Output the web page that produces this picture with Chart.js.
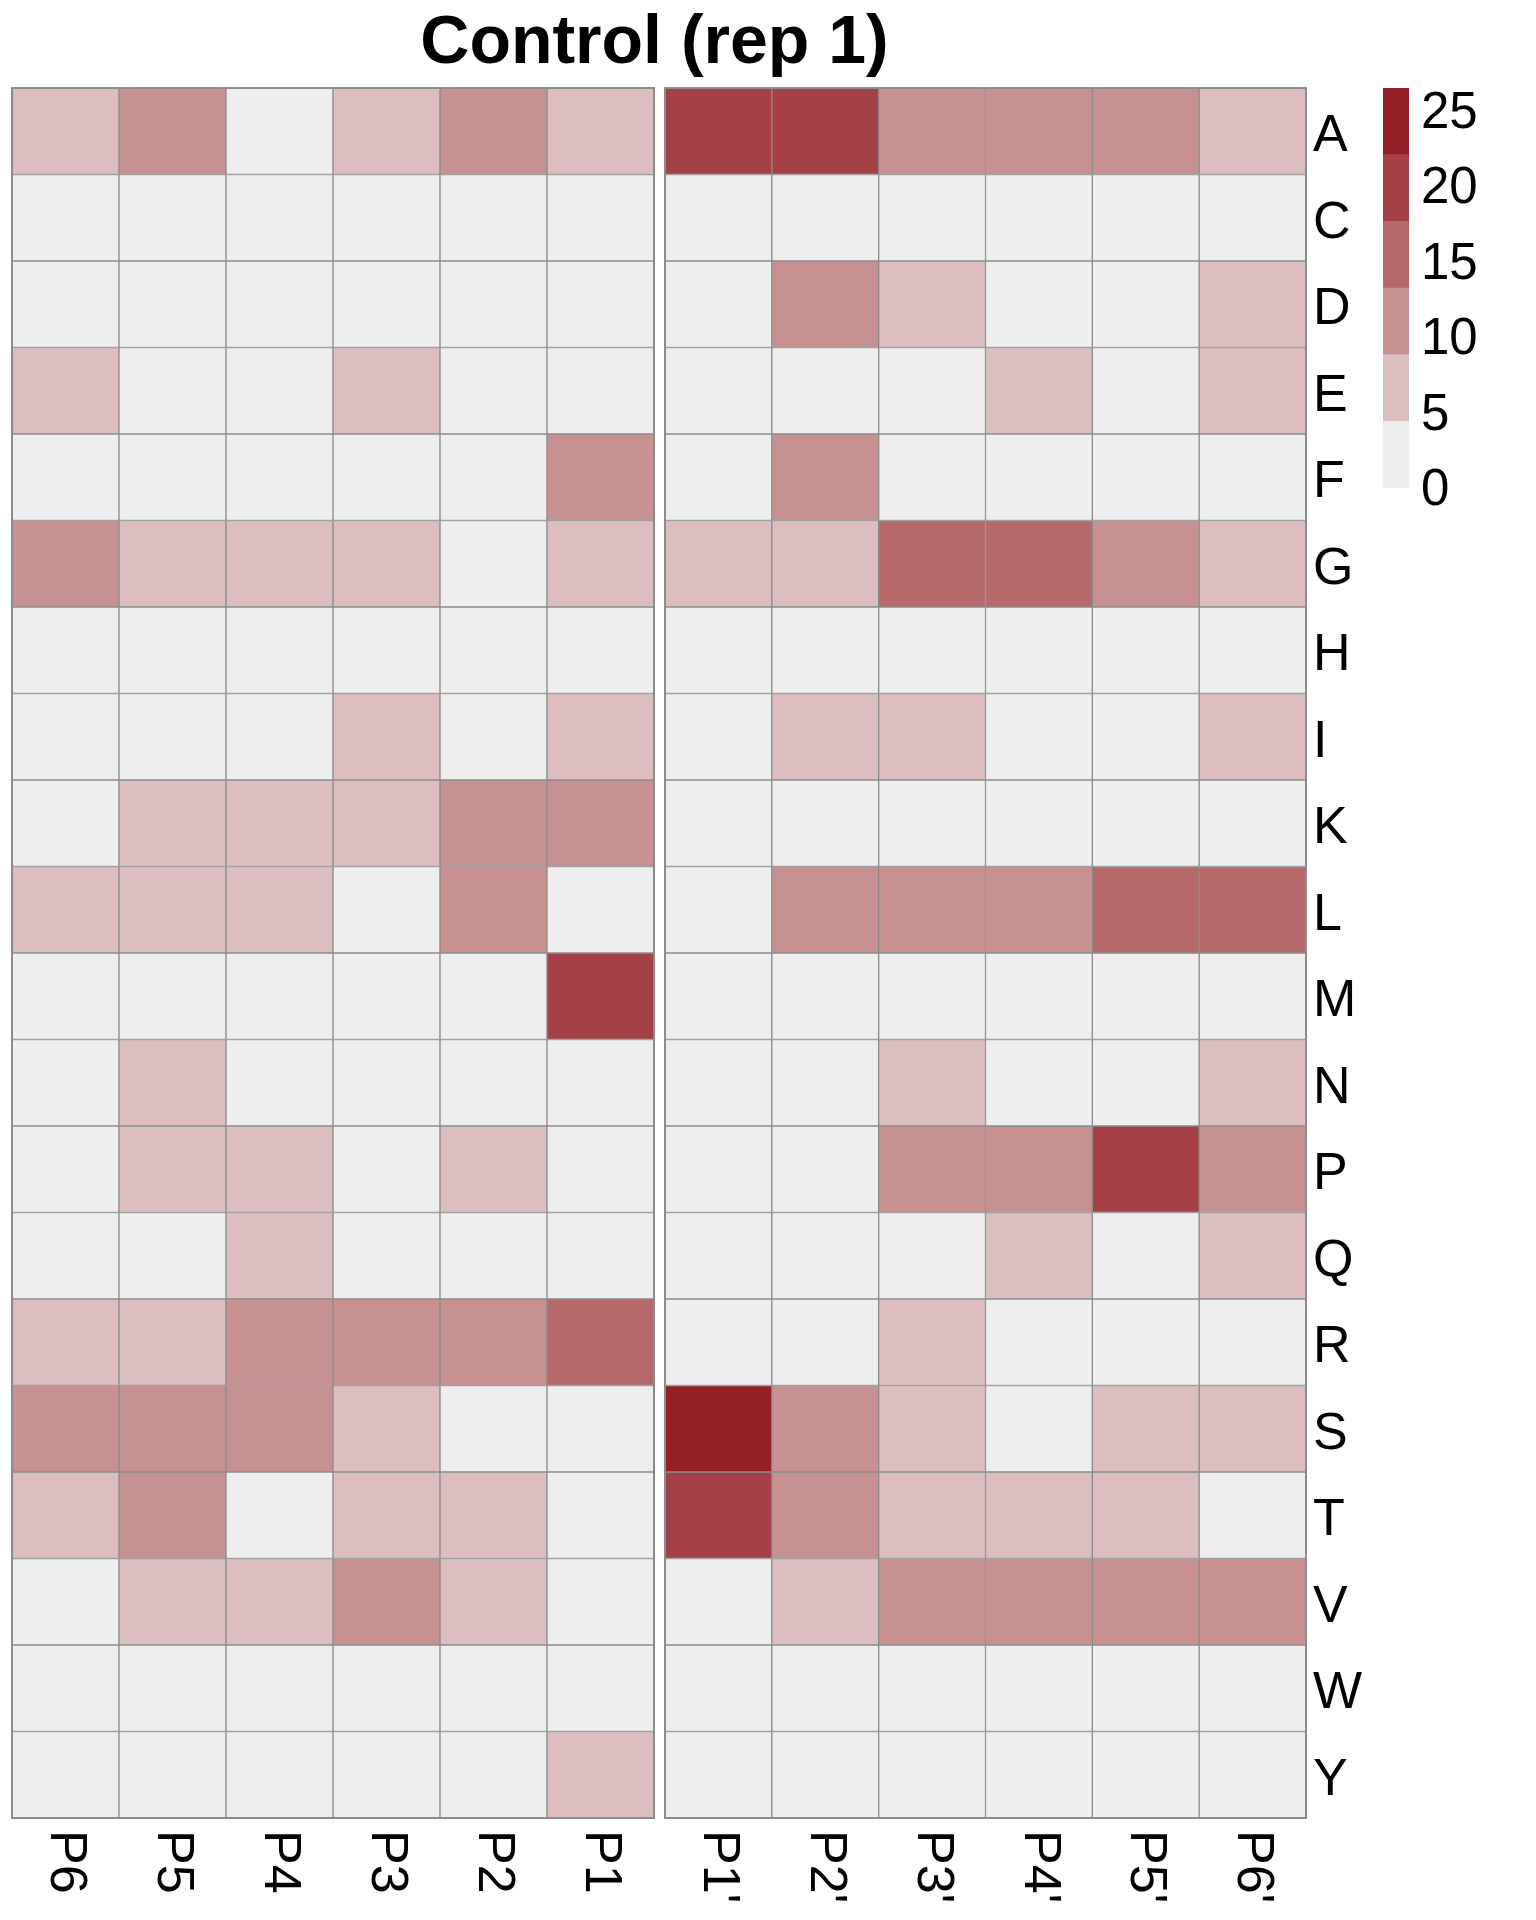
<!DOCTYPE html>
<html>
<head>
<meta charset="utf-8">
<script src="https://cdn.jsdelivr.net/npm/chart.js@4.4.1/dist/chart.umd.min.js"></script>
<style>
  html, body { margin: 0; padding: 0; background: #ffffff; }
  #page { position: relative; width: 1536px; height: 1920px; }
  canvas { position: absolute; left: 0; top: 0; }
  #title {
    position: absolute; left: 0; top: 5px; width: 1309px;
    text-align: center; font: bold 68px "Liberation Sans", Arial, sans-serif;
    line-height: 68px; color: #000; white-space: nowrap;
  }
</style>
</head>
<body>
<div id="page">
  <div id="title">Control (rep 1)</div>
  <canvas id="cv-left" width="1536" height="1920"></canvas>
  <canvas id="cv-right" width="1536" height="1920"></canvas>
  <canvas id="cv-legend" width="1536" height="1920"></canvas>
</div>
<script>
// residues, top to bottom
const rows = ['A', 'C', 'D', 'E', 'F', 'G', 'H', 'I', 'K', 'L', 'M', 'N', 'P', 'Q', 'R', 'S', 'T', 'V', 'W', 'Y'];
const leftCols = ['P6', 'P5', 'P4', 'P3', 'P2', 'P1'];
const rightCols = ["P1'", "P2'", "P3'", "P4'", "P5'", "P6'"];

// one row per residue, one value per column
const leftValues = [
    [7, 12, 0, 7, 12, 7],    // A
    [0, 0, 0, 0, 0, 0],      // C
    [0, 0, 0, 0, 0, 0],      // D
    [7, 0, 0, 7, 0, 0],      // E
    [0, 0, 0, 0, 0, 12],     // F
    [12, 7, 7, 7, 0, 7],     // G
    [0, 0, 0, 0, 0, 0],      // H
    [0, 0, 0, 7, 0, 7],      // I
    [0, 7, 7, 7, 12, 12],    // K
    [7, 7, 7, 0, 12, 0],     // L
    [0, 0, 0, 0, 0, 22],     // M
    [0, 7, 0, 0, 0, 0],      // N
    [0, 7, 7, 0, 7, 0],      // P
    [0, 0, 7, 0, 0, 0],      // Q
    [7, 7, 12, 12, 12, 17],  // R
    [12, 12, 12, 7, 0, 0],   // S
    [7, 12, 0, 7, 7, 0],     // T
    [0, 7, 7, 12, 7, 0],     // V
    [0, 0, 0, 0, 0, 0],      // W
    [0, 0, 0, 0, 0, 7]       // Y
];
const rightValues = [
    [22, 22, 12, 12, 12, 7], // A
    [0, 0, 0, 0, 0, 0],      // C
    [0, 12, 7, 0, 0, 7],     // D
    [0, 0, 0, 7, 0, 7],      // E
    [0, 12, 0, 0, 0, 0],     // F
    [7, 7, 17, 17, 12, 7],   // G
    [0, 0, 0, 0, 0, 0],      // H
    [0, 7, 7, 0, 0, 7],      // I
    [0, 0, 0, 0, 0, 0],      // K
    [0, 12, 12, 12, 17, 17], // L
    [0, 0, 0, 0, 0, 0],      // M
    [0, 0, 7, 0, 0, 7],      // N
    [0, 0, 12, 12, 22, 12],  // P
    [0, 0, 0, 7, 0, 7],      // Q
    [0, 0, 7, 0, 0, 0],      // R
    [27, 12, 7, 0, 7, 7],    // S
    [22, 12, 7, 7, 7, 0],    // T
    [0, 7, 12, 12, 12, 12],  // V
    [0, 0, 0, 0, 0, 0],      // W
    [0, 0, 0, 0, 0, 0]       // Y
];

const legendTicks = [0, 5, 10, 15, 20, 25];
const legendTop = 26.5;
const palette = ['#eeeeee', '#dcbec1', '#c79192', '#b5696a', '#a44046', '#941f26'];

Chart.defaults.font.family = '"Liberation Sans", Arial, sans-serif';
Chart.defaults.color = '#000';

function colorFor(v) {
    return palette[Math.min(palette.length - 1, Math.floor(v / 5))];
}

const labelFont = '52px "Liberation Sans", Arial, sans-serif';

// column labels, rotated to read downwards; row labels on the right panel
const heatLabels = {
    id: 'heatLabels',
    afterDraw(chart, args, opts) {
        const ctx = chart.ctx;
        const xs = chart.scales.x, ys = chart.scales.y;
        const area = chart.chartArea;
        ctx.save();
        ctx.fillStyle = '#000';
        ctx.font = labelFont;
        ctx.textAlign = 'left';
        ctx.textBaseline = 'middle';
        chart.data.labels.forEach((lab, i) => {
            ctx.save();
            ctx.translate(xs.getPixelForValue(i), area.bottom + 12);
            ctx.rotate(Math.PI / 2);
            ctx.fillText(lab, 0, 0);
            ctx.restore();
        });
        if (opts.rowLabels) {
            ctx.textBaseline = 'alphabetic';
            rows.forEach((r, k) => {
                ctx.fillText(r, area.right + 7, ys.getPixelForValue(rows.length - k - 0.5) + 20);
            });
        }
        // panel frame
        ctx.strokeStyle = '#8c8c8c';
        ctx.lineWidth = 2;
        ctx.strokeRect(area.left, area.top, area.right - area.left, area.bottom - area.top);
        ctx.restore();
    }
};

function makeHeat(id, cols, values, pad, rowLabels) {
    // bottom row first so that A ends up on top of the stack
    const datasets = rows.map((r, k) => ({
        label: r,
        data: cols.map(() => 1),
        backgroundColor: values[k].map(colorFor),
        borderColor: '#8c8c8c',
        borderWidth: 1,
        borderSkipped: false,
        barPercentage: 1,
        categoryPercentage: 1,
        stack: 'cells'
    })).reverse();
    return new Chart(document.getElementById(id), {
        type: 'bar',
        data: { labels: cols, datasets: datasets },
        options: {
            responsive: false,
            animation: false,
            layout: { padding: pad },
            plugins: { legend: { display: false }, tooltip: { enabled: false }, heatLabels: { rowLabels: rowLabels } },
            scales: {
                x: { display: false, stacked: true },
                y: { display: false, stacked: true, min: 0, max: rows.length }
            }
        },
        plugins: [heatLabels]
    });
}

const leftChart = makeHeat('cv-left', leftCols, leftValues,
    { left: 12, top: 88, right: 1536 - 654, bottom: 1920 - 1818 }, false);
const rightChart = makeHeat('cv-right', rightCols, rightValues,
    { left: 665, top: 88, right: 1536 - 1306, bottom: 1920 - 1818 }, true);

// colour key
const legendChart = new Chart(document.getElementById('cv-legend'), {
    type: 'bar',
    data: {
        labels: [''],
        datasets: palette.map(c => ({
            data: [legendTop / palette.length],
            backgroundColor: c,
            borderWidth: 0,
            barPercentage: 1,
            categoryPercentage: 1,
            stack: 'key'
        }))
    },
    options: {
        responsive: false,
        animation: false,
        layout: { padding: { left: 1383, top: 88, right: 0, bottom: 1920 - 488 } },
        plugins: { legend: { display: false }, tooltip: { enabled: false } },
        scales: {
            x: { display: false, stacked: true },
            y: {
                stacked: true,
                position: 'right',
                min: 0,
                max: legendTop,
                afterBuildTicks: s => { s.ticks = legendTicks.map(v => ({ value: v })); },
                afterFit: s => { s.width = 1536 - 1409; },
                grid: { display: false, drawTicks: false },
                border: { display: false },
                ticks: { padding: 12, labelOffset: 3, font: { size: 51 }, color: '#000' }
            }
        }
    }
});
</script>
</body>
</html>
